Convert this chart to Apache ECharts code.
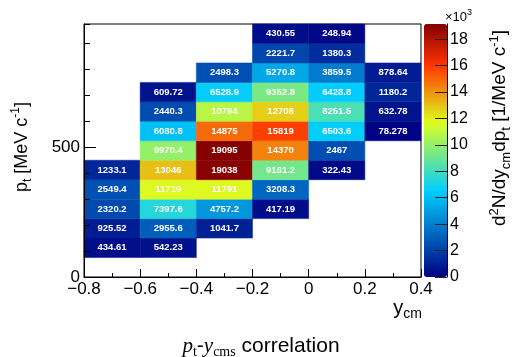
<!DOCTYPE html>
<html><head><meta charset="utf-8">
<script src="https://cdn.jsdelivr.net/npm/echarts@6/dist/echarts.min.js"></script>
<style>html,body{margin:0;padding:0;background:#fff}#c{width:521px;height:357px}</style>
</head><body><div id="c"></div>
<script>
// ---- data ----
const yCmBinLow = [-0.8, -0.6, -0.4, -0.2, 0.0, 0.2];   // lower edges of y_cm bins
const yCmBinWidth = 0.2;
const ptBinLow = [75, 150, 225, 300, 375, 450, 525, 600, 675, 750, 825, 900]; // lower edges of pt bins
const ptBinWidth = 75;
const firstPtBin = [0, 0, 1, 2, 4, 6];                     // index of first filled pt bin per y_cm column
const counts_m08 = [434.61, 925.52, 2320.2, 2549.4, 1233.1];
const counts_m06 = [542.23, 2955.6, 7397.6, 11719, 13046, 9970.4, 6080.8, 2440.3, 609.72];
const counts_m04 = [1041.7, 4757.2, 11791, 19038, 19095, 14875, 10794, 6528.9, 2498.3];
const counts_m02 = [417.19, 3208.3, 9181.2, 14370, 15819, 12708, 9352.8, 5270.8, 2221.7, 430.55];
const counts_p00 = [322.43, 2467, 6503.6, 8251.5, 6428.8, 3859.5, 1380.3, 248.94];
const counts_p02 = [78.278, 632.78, 1180.2, 878.64];
const zMax = 19150;

const columns = [counts_m08, counts_m06, counts_m04, counts_m02, counts_p00, counts_p02];
const cells = [];
columns.forEach((col, ci) => {
  col.forEach((v, k) => {
    cells.push([yCmBinLow[ci], ptBinLow[firstPtBin[ci] + k], v]);
  });
});

// ---- palette (ROOT-style jet gradient) ----
const stops = [0, 0.34, 0.61, 0.84, 1.0];
const R = [0, 0, 0.87, 1, 0.51], G = [0, 0.81, 1, 0.2, 0], B = [0.51, 1, 0.12, 0, 0];
function pal(t) {
  let i = 0;
  while (i < stops.length - 2 && t > stops[i + 1]) i++;
  const f = (t - stops[i]) / (stops[i + 1] - stops[i]);
  const c = a => Math.round(255 * (a[i] + (a[i + 1] - a[i]) * f));
  return 'rgb(' + c(R) + ',' + c(G) + ',' + c(B) + ')';
}
const palette = [];
for (let i = 0; i <= 60; i++) palette.push(pal(i / 60));

const SANS = '"Liberation Sans", Arial, Helvetica, sans-serif';
const SERIF = '"Liberation Serif", "Times New Roman", serif';
const fmtX = v => Math.abs(v) < 1e-9 ? '0' : (v < 0 ? '\u2212' : '') + Math.abs(v).toFixed(1);

const chart = echarts.init(document.getElementById('c'), null, {renderer: 'canvas'});
chart.setOption({
  animation: false,
  backgroundColor: '#fff',
  grid: [
    {left: 84, top: 24, width: 337, height: 253, show: true, borderColor: '#000', borderWidth: 1, backgroundColor: 'transparent'},
    {left: 424, top: 24, width: 23, height: 253, show: false}
  ],
  xAxis: [
    {gridIndex: 0, type: 'value', min: -0.8, max: 0.4, interval: 0.2, z: 5,
     axisLine: {onZero: false, lineStyle: {color: '#000', width: 1}},
     axisTick: {inside: true, length: 8, lineStyle: {color: '#000'}},
     minorTick: {show: true, splitNumber: 2, length: 4, lineStyle: {color: '#000'}},
     splitLine: {show: false},
     axisLabel: {formatter: fmtX, color: '#000', fontSize: 17, fontFamily: SANS, margin: 4}},
    {gridIndex: 1, type: 'value', show: false, min: 0, max: 1}
  ],
  yAxis: [
    {gridIndex: 0, type: 'value', position: 'left', min: 0, max: 975, interval: 100, z: 5,
     axisLine: {onZero: false, lineStyle: {color: '#000'}},
     axisTick: {inside: true, length: 6, lineStyle: {color: '#000'}},
     axisLabel: {show: false}, splitLine: {show: false}},
    {gridIndex: 0, type: 'value', position: 'left', offset: 0, min: 0, max: 975, interval: 500, z: 5,
     axisLine: {show: false, onZero: false},
     axisTick: {inside: true, length: 12, lineStyle: {color: '#000'}},
     axisLabel: {color: '#000', fontSize: 17, fontFamily: SANS, margin: 4, showMaxLabel: false},
     splitLine: {show: false}},
    {gridIndex: 1, type: 'value', position: 'right', min: 0, max: zMax, interval: 2000, z: 10,
     axisLine: {show: true, onZero: false, lineStyle: {color: '#000'}},
     axisTick: {inside: true, length: 12, lineStyle: {color: '#222'}},
     axisLabel: {color: '#000', fontSize: 16, fontFamily: SANS, margin: 3, showMaxLabel: false,
                 formatter: v => String(Math.round(v / 1000))},
     splitLine: {show: false}}
  ],
  visualMap: {
    type: 'continuous', min: 0, max: zMax, dimension: 2, seriesIndex: 0,
    orient: 'vertical', left: 424, top: 24, itemWidth: 23, itemHeight: 253, padding: 0,
    calculable: false, hoverLink: false, text: null, showLabel: false,
    inRange: {color: palette}
  },
  series: [{
    type: 'custom', xAxisIndex: 0, yAxisIndex: 0,
    encode: {x: 0, y: 1},
    data: cells,
    renderItem(params, api) {
      const x0 = api.value(0), y0 = api.value(1), v = api.value(2);
      const p0 = api.coord([x0, y0 + ptBinWidth]);
      const p1 = api.coord([x0 + yCmBinWidth, y0]);
      return {
        type: 'rect',
        shape: {x: p0[0], y: p0[1], width: p1[0] - p0[0], height: p1[1] - p0[1]},
        style: {fill: api.visual('color'), stroke: api.visual('color'), lineWidth: 0.5},
        textContent: {style: {text: String(v), fill: '#fff', fontSize: 9.5, fontWeight: 'bold', fontFamily: SANS}},
        textConfig: {position: 'inside'}
      };
    }
  }],
  graphic: [
    {type: 'text', x: 22, y: 147, rotation: Math.PI / 2, z: 20,
     style: {text: '{n|p}{sub|t}{n| [MeV c}{sup|-1}{n|]}', align: 'center', verticalAlign: 'middle',
       rich: {n: {fontSize: 18, fontFamily: SANS, lineHeight: 24, fill: '#000'},
              sub: {fontSize: 12, fontFamily: SANS, lineHeight: 12, verticalAlign: 'bottom', fill: '#000'},
              sup: {fontSize: 12, fontFamily: SANS, lineHeight: 12, verticalAlign: 'top', fill: '#000'}}}},
    {type: 'text', x: 500, y: 128, rotation: Math.PI / 2, z: 20,
     style: {text: '{n|d}{sup|2}{n|N/dy}{sub|cm}{n|dp}{sub|t}{n| [1/MeV c}{sup|-1}{n|]}', align: 'center', verticalAlign: 'middle',
       rich: {n: {fontSize: 19, fontFamily: SANS, lineHeight: 25, fill: '#000'},
              sub: {fontSize: 13, fontFamily: SANS, lineHeight: 13, verticalAlign: 'bottom', fill: '#000'},
              sup: {fontSize: 13, fontFamily: SANS, lineHeight: 13, verticalAlign: 'top', fill: '#000'}}}},
    {type: 'text', x: 422, y: 308, z: 20,
     style: {text: '{n|y}{sub|cm}', align: 'right', verticalAlign: 'middle',
       rich: {n: {fontSize: 20, fontFamily: SANS, lineHeight: 26, fill: '#000'},
              sub: {fontSize: 14, fontFamily: SANS, lineHeight: 14, verticalAlign: 'bottom', fill: '#000'}}}},
    {type: 'text', x: 445, y: 17, z: 20,
     style: {text: '{n|\u00d710}{sup|3}', align: 'left', verticalAlign: 'middle',
       rich: {n: {fontSize: 13, fontFamily: SANS, lineHeight: 18, fill: '#000'},
              sup: {fontSize: 9, fontFamily: SANS, lineHeight: 9, verticalAlign: 'top', fill: '#000'}}}},
    {type: 'text', x: 261, y: 346, z: 20,
     style: {text: '{pi|p}{sub|t}{n|-}{pi|y}{sub|cms}{n| correlation}', align: 'center', verticalAlign: 'middle',
       rich: {pi: {fontSize: 21, fontFamily: SERIF, fontStyle: 'italic', lineHeight: 26, fill: '#000'},
              sub: {fontSize: 14, fontFamily: SERIF, lineHeight: 14, verticalAlign: 'bottom', fill: '#000'},
              n: {fontSize: 21, fontFamily: SANS, lineHeight: 26, fill: '#000'}}}}
  ]
});
</script>
</body></html>
